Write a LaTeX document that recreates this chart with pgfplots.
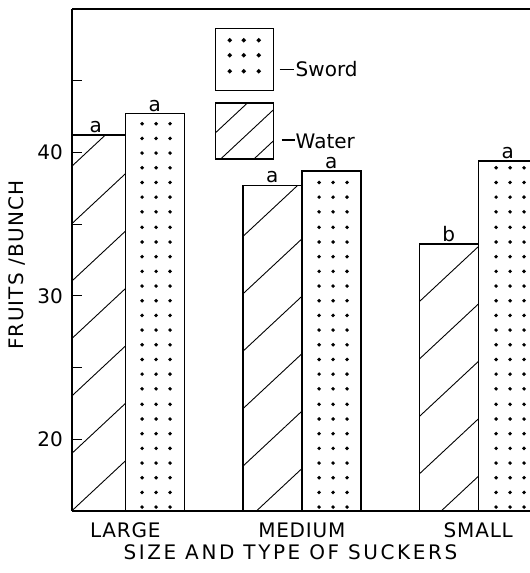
\documentclass[border=0pt]{standalone}
\usepackage{fontspec}
\setmainfont{DejaVu Sans}
\usepackage{pgfplots}
\pgfplotsset{compat=1.18}
\usetikzlibrary{patterns,patterns.meta}

\newfontfamily\xlabfont{DejaVu Sans}[LetterSpace=13]
\newfontfamily\ylabfont{DejaVu Sans}[LetterSpace=6]
\newfontfamily\catfont{DejaVu Sans}[LetterSpace=4]
\newcommand\chartsize{\fontsize{20}{24}\selectfont}

% dot texture for the sword-sucker bars: three columns per bar,
% the square tile repeats once per category step (176.5pt)
\pgfdeclarepatternformonly{sworddots}{\pgfqpoint{0pt}{0pt}}{\pgfqpoint{176.5pt}{176.5pt}}{\pgfqpoint{176.5pt}{176.5pt}}{%
  \foreach \r in {0,...,11}{%
    \pgfpathcircle{\pgfpoint{142.3pt}{8.2pt+\r*14.708pt}}{1.95pt}%
    \pgfpathcircle{\pgfpoint{156.3pt}{8.2pt+\r*14.708pt}}{1.95pt}%
    \pgfpathcircle{\pgfpoint{170.3pt}{8.2pt+\r*14.708pt}}{1.95pt}%
  }%
  \pgfusepath{fill}}

\begin{document}
\begin{tikzpicture}
\useasboundingbox (0,0) rectangle (530pt,573pt);
\begin{axis}[
  at={(72pt,62pt)}, anchor=south west,
  scale only axis, width=458pt, height=502pt,
  xmin=-0.302, xmax=2.293, ymin=15, ymax=50,
  axis x line*=box, axis y line*=left,
  axis line style={line width=1.6pt},
  xtick={0,1,2}, xticklabels={LARGE,MEDIUM,SMALL},
  x tick style={draw=none},
  xticklabel style={font=\catfont\chartsize, anchor=north, inner sep=0pt, yshift=-11.5pt},
  ytick={20,30,40}, minor ytick={25,35,45},
  tick align=inside, major tick length=10pt, minor tick length=10pt,
  y tick style={line width=1.2pt, black},
  /pgf/number format/assume math mode=true,
  yticklabel style={font=\chartsize, inner sep=0pt, xshift=-9pt},
  ylabel={FRUITS /BUNCH},
  ylabel style={at={(axis description cs:-0.119,0.490)}, anchor=center, font=\ylabfont\chartsize},
  xlabel={SIZE AND TYPE OF SUCKERS},
  xlabel style={at={(axis description cs:0.477,-0.0817)}, anchor=center, font=\xlabfont\chartsize},
  every node near coord/.append style={font=\chartsize, inner sep=1.5pt, black},
  legend style={at={(axis description cs:0.3122,0.9622)}, anchor=north west,
    draw=none, fill=none, inner sep=0pt, outer sep=0pt,
    row sep=11pt, column sep=0pt, font=\chartsize,
    cells={anchor=west}, nodes={inner sep=0pt}},
]

% sword suckers
\addplot[ybar, bar width=59pt, bar shift=29.5pt, draw=black, line width=1.5pt,
  pattern=sworddots,
  nodes near coords, point meta=explicit symbolic,
  every node near coord/.append style={xshift=29.5pt},
  legend image code/.code={
    \draw[line width=1.5pt, fill=none] (0pt,-21.5pt) rectangle (58pt,40.5pt);
    \foreach \dx in {14,28,43}{
      \foreach \dy in {29,14,-2}{
        \draw[fill=none, line width=1.95pt] (\dx pt,\dy pt) circle (0.98pt);
      }
    }
    \draw[line width=1.2pt, fill=none] (64pt,0pt) -- (78pt,0pt);
    \path[draw=none, fill=none] (80pt,0pt) circle (0pt);
  }]
  coordinates {(0,42.7) [a] (1,38.7) [a] (2,39.4) [a]};
\addlegendentry{Sword}

% water suckers
\addplot[ybar, bar width=59pt, bar shift=-29.5pt, draw=black, line width=1.5pt,
  pattern={Lines[angle=43, distance=42pt, yshift=52.6pt, line width=0.9pt]},
  nodes near coords, point meta=explicit symbolic,
  every node near coord/.append style={xshift=-29.5pt},
  legend image code/.code={
    \draw[line width=1.5pt, pattern={Lines[angle=43, distance=22.7pt, yshift=22pt, line width=0.9pt]}]
      (0pt,-16.5pt) rectangle (58pt,39.5pt);
    \draw[line width=1.2pt, fill=none] (66pt,2.5pt) -- (79pt,2.5pt);
    \path[draw=none, fill=none] (80pt,0pt) circle (0pt);
  }]
  coordinates {(0,41.2) [a] (1,37.7) [a] (2,33.6) [b]};
\addlegendentry{Water}

\end{axis}
\end{tikzpicture}
\end{document}
